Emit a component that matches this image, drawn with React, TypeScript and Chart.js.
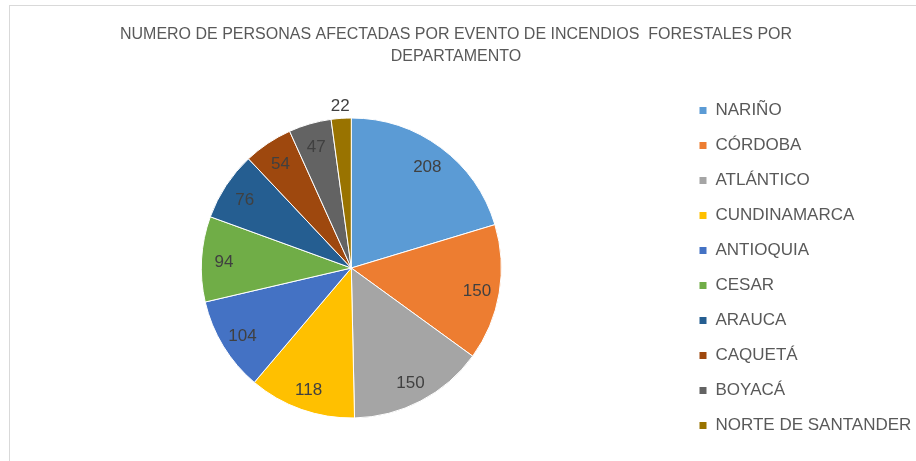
import React, { useEffect, useRef } from "react";
import { Chart, registerables } from "chart.js";

Chart.register(...registerables);

const TITLE_LINES = [
  "NUMERO DE PERSONAS AFECTADAS POR EVENTO DE INCENDIOS  FORESTALES POR",
  "DEPARTAMENTO",
];
const departamentos = [
  "NARIÑO",
  "CÓRDOBA",
  "ATLÁNTICO",
  "CUNDINAMARCA",
  "ANTIOQUIA",
  "CESAR",
  "ARAUCA",
  "CAQUETÁ",
  "BOYACÁ",
  "NORTE DE SANTANDER",
];
const personasAfectadas = [208, 150, 150, 118, 104, 94, 76, 54, 47, 22];
const sliceColors = [
  "#5B9BD5",
  "#ED7D31",
  "#A5A5A5",
  "#FFC000",
  "#4472C4",
  "#70AD47",
  "#255E91",
  "#9E480E",
  "#636363",
  "#997300",
];

const FONT = "'Liberation Sans', Arial, sans-serif";
const PIE_CENTER_X = 351.3;

// keep the pie centred where the reference has it, left of the legend
const pieAreaPlugin = {
  id: "pieArea",
  afterLayout(chart: any) {
    const area = chart.chartArea;
    const left = 2 * PIE_CENTER_X - area.right;
    area.left = left;
    area.width = area.right - left;
  },
};

const dataLabelPlugin = {
  id: "sliceValues",
  afterDatasetsDraw(chart: any) {
    const ctx = chart.ctx;
    const meta = chart.getDatasetMeta(0);
    const values = chart.data.datasets[0].data as number[];
    ctx.save();
    ctx.font = `17px ${FONT}`;
    ctx.fillStyle = "#404040";
    ctx.textAlign = "center";
    ctx.textBaseline = "middle";
    meta.data.forEach((arc: any, i: number) => {
      const { x, y, startAngle, endAngle, outerRadius } = arc.getProps(
        ["x", "y", "startAngle", "endAngle", "outerRadius"],
        true
      );
      const mid = (startAngle + endAngle) / 2;
      const small = endAngle - startAngle < 0.2;
      const r = small ? outerRadius + 14 : outerRadius * 0.85;
      ctx.fillText(String(values[i]), x + Math.cos(mid) * r, y + Math.sin(mid) * r + 2);
    });
    ctx.restore();
  },
};

export default function App() {
  const canvasRef = useRef<HTMLCanvasElement | null>(null);

  useEffect(() => {
    if (!canvasRef.current) return;
    const chart = new Chart(canvasRef.current, {
      type: "pie",
      data: {
        labels: departamentos,
        datasets: [
          {
            data: personasAfectadas,
            backgroundColor: sliceColors,
            borderColor: "#ffffff",
            borderWidth: 1,
          },
        ],
      },
      options: {
        responsive: false,
        animation: false,
        radius: 150,
        layout: { padding: { left: 0, right: 4, top: 0, bottom: 9 } },
        plugins: {
          tooltip: { enabled: false },
          title: {
            display: true,
            text: TITLE_LINES,
            color: "#595959",
            font: { family: FONT, size: 16, weight: "normal", lineHeight: "22px" },
            padding: { top: 24, bottom: 16 },
          },
          legend: {
            display: true,
            position: "right",
            fullSize: false,
            maxWidth: 231,
            align: "center",
            labels: {
              boxWidth: 8,
              boxHeight: 8,
              padding: 18,
              color: "#595959",
              font: { family: FONT, size: 17 },
            },
          },
        },
      } as any,
      plugins: [pieAreaPlugin, dataLabelPlugin],
    });
    return () => chart.destroy();
  }, []);

  return (
    <div
      style={{
        position: "absolute",
        left: 0,
        top: 0,
        width: 916,
        height: 461,
        background: "#ffffff",
        overflow: "hidden",
      }}
    >
      <div
        style={{
          position: "absolute",
          left: 9,
          top: 5,
          right: 0,
          bottom: 0,
          borderLeft: "1px solid #d9d9d9",
          borderTop: "1px solid #d9d9d9",
        }}
      />
      <canvas
        ref={canvasRef}
        width={916}
        height={461}
        style={{ position: "absolute", left: 0, top: 0 }}
      />
    </div>
  );
}
